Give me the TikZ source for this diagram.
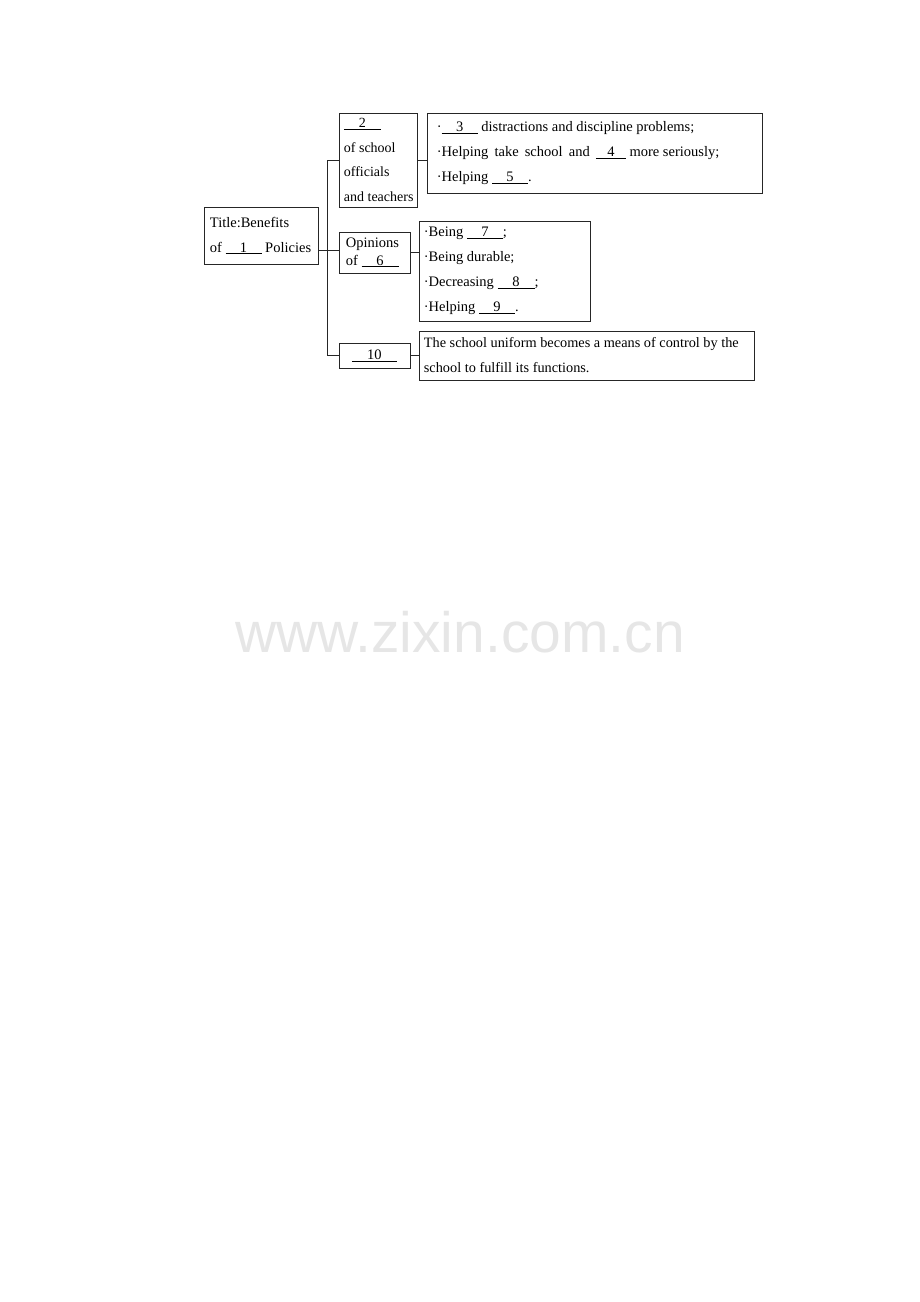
\documentclass[tikz,border=0pt]{standalone}
\usepackage{fontspec}
\setmainfont{Liberation Serif}
\newfontfamily\markfont{Liberation Sans}
\definecolor{BoxLine}{HTML}{262626}
\definecolor{MarkGray}{HTML}{E6E6E6}
\usetikzlibrary{calc}

% underlined blank with its number
\newcommand{\gapfill}[2]{\underline{\makebox[#1][c]{#2}}}
% a slightly wider word space
\newcommand{\wsp}{\hspace{2.5pt} }

\begin{document}
\begin{tikzpicture}[x=1pt, y=-1pt,
    font=\fontsize{14.5}{25}\selectfont,
    inner ysep=0pt,
    frame/.style={shape=rectangle,
      draw=BoxLine,
      line width=0.8pt,
      align=flush left,
      anchor=north west},
    link/.style={draw=BoxLine, line width=0.8pt}]

    \node[name=mark,
      font=\markfont\fontsize{57}{57}\selectfont,
      text=MarkGray,
      anchor=base] at (460,652) {www.zixin.com.cn};

    \node[name=title,
      frame,
      inner xsep=6pt,
      text width=102pt,
      minimum height=57pt] at (203.5,206.5)
      {\mbox{Title:Benefits}\\\mbox{of \gapfill{36pt}{1} Policies}};

    \node[name=officials,
      frame,
      font=\fontsize{14}{24.5}\selectfont,
      inner xsep=5pt,
      text width=68pt,
      minimum height=94pt] at (338.5,112.5)
      {\gapfill{37pt}{2}\\\mbox{of school}\\\mbox{officials}\\\mbox{and teachers}};

    \node[name=effects,
      frame,
      inner xsep=10pt,
      text width=315pt,
      minimum height=80pt] at (426.5,112.5)
      {\mbox{·\gapfill{36pt}{3} distractions and discipline problems;}\\
       \mbox{·Helping\wsp take\wsp school\wsp and\wsp \gapfill{30pt}{4} more seriously;}\\
       \mbox{·Helping \gapfill{36pt}{5}.}};

    \node[name=opinions,
      frame,
      font=\fontsize{14.5}{18}\selectfont,
      inner xsep=7pt,
      text width=57pt,
      minimum height=41pt] at (338.5,231.5)
      {\mbox{Opinions}\\\mbox{of \gapfill{37pt}{6}}};

    \node[name=reasons,
      frame,
      inner xsep=5pt,
      text width=161pt,
      minimum height=100pt] at (418.5,220.5)
      {\mbox{·Being \gapfill{36pt}{7};}\\
       \mbox{·Being durable;}\\
       \mbox{·Decreasing \gapfill{37pt}{8};}\\
       \mbox{·Helping \gapfill{36pt}{9}.}};

    \node[name=ten,
      frame,
      align=center,
      inner xsep=5pt,
      text width=61pt,
      minimum height=25pt] at (338.5,342.5)
      {\gapfill{45pt}{10}};

    \node[name=control,
      frame,
      font=\fontsize{14.3}{25}\selectfont,
      inner xsep=5pt,
      text width=325pt,
      minimum height=49pt] at (418.5,330.5)
      {\mbox{The school uniform becomes a means of control by the}\\
       \mbox{school to fulfill its functions.}};

    \coordinate (trunk) at (327.5,250.5);

    \draw[link] (title.east |- trunk) -- (trunk);
    \draw[link] (officials.west) -| (trunk) |- (ten.west);
    \draw[link] (trunk) -- (trunk -| opinions.west);
    \draw[link] (officials.east) -- (officials.east -| effects.west);
    \draw[link] (opinions.east) -- (opinions.east -| reasons.west);
    \draw[link] (ten.east) -- (ten.east -| control.west);

    \path [use as bounding box] (0,0) rectangle (920,1302);
  \end{tikzpicture}
\end{document}
